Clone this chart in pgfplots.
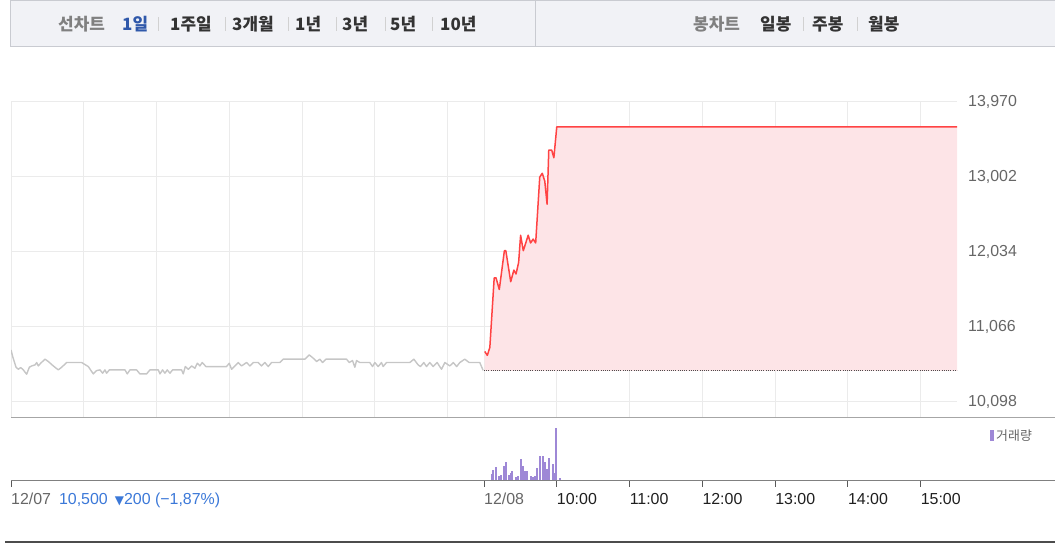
\documentclass[border=0pt]{standalone}
\usepackage{fontspec}
\setmainfont{Liberation Sans}
\newfontfamily\kr{Noto Sans CJK KR}
\newfontfamily\dv{DejaVu Sans}
\usepackage{pgfplots}
\pgfplotsset{compat=1.18}
\usepackage{pgfplotstable}
\definecolor{gridc}{HTML}{EBEBEB}
\definecolor{tabbg}{HTML}{F1F2F6}
\definecolor{tabline}{HTML}{C9CBD1}
\definecolor{labgrey}{HTML}{666666}
\definecolor{downblue}{HTML}{3B78D8}
\definecolor{upred}{HTML}{FF4343}
\definecolor{uppink}{HTML}{FDE4E7}
\definecolor{prevgrey}{HTML}{C6C6C6}
\definecolor{volpurple}{HTML}{9E88D6}
\definecolor{selblue}{HTML}{2F58AA}

\pgfplotstableread{
h p
0 10770
0.023 10684
0.069 10546
0.101 10520
0.133 10542
0.169 10512
0.215 10456
0.252 10546
0.284 10563
0.330 10576
0.353 10607
0.375 10563
0.408 10598
0.467 10650
0.513 10620
0.581 10563
0.650 10512
0.696 10546
0.765 10607
0.971 10607
1.062 10555
1.131 10460
1.177 10503
1.223 10512
1.259 10469
1.291 10512
1.314 10469
1.351 10512
1.566 10512
1.598 10460
1.635 10512
1.726 10512
1.772 10460
1.864 10460
1.909 10512
2.024 10512
2.047 10460
2.083 10512
2.115 10469
2.147 10512
2.184 10469
2.221 10512
2.344 10512
2.367 10460
2.395 10555
2.436 10520
2.482 10563
2.527 10533
2.560 10598
2.596 10563
2.628 10607
2.679 10555
2.962 10555
2.999 10598
3.031 10520
3.077 10563
3.123 10607
3.168 10563
3.237 10607
3.283 10563
3.329 10607
3.397 10607
3.443 10563
3.489 10607
3.535 10555
3.581 10607
3.695 10607
3.741 10650
4.038 10650
4.098 10706
4.153 10663
4.199 10620
4.245 10650
4.281 10607
4.327 10650
4.611 10650
4.648 10607
4.693 10632
4.725 10546
4.748 10632
4.794 10607
4.931 10607
4.968 10555
5.000 10607
5.046 10555
5.091 10607
5.114 10555
5.160 10607
5.481 10607
5.536 10650
5.595 10576
5.627 10555
5.673 10607
5.710 10555
5.755 10607
5.801 10555
5.856 10607
5.916 10520
5.962 10607
6.030 10563
6.078 10607
6.124 10555
6.168 10607
6.236 10650
6.296 10607
6.442 10607
6.488 10505
}\prevday

\pgfplotstableread{
h p
6.510 10750
6.545 10700
6.580 10800
6.640 11700
6.665 11700
6.710 11550
6.780 12050
6.800 12050
6.867 11650
6.910 11800
6.940 11750
6.976 11900
7.003 12250
7.040 12050
7.107 12250
7.140 12150
7.175 12200
7.210 12150
7.266 13000
7.300 13050
7.335 12950
7.367 12650
7.390 13350
7.430 13350
7.460 13250
7.500 13650
13.000 13650
}\today

\pgfplotstableread{
h v
6.500 4
6.606 22
6.624 34
6.669 42
6.706 16
6.734 19
6.775 46
6.798 56
6.839 19
6.867 24
6.889 31
6.935 12
6.971 16
7.004 66
7.040 46
7.063 31
7.095 29
7.141 16
7.173 12
7.201 14
7.228 39
7.265 74
7.306 74
7.334 56
7.370 36
7.389 69
7.444 52
7.479 24
7.493 159
7.544 8
7.589 4
8.240 3
}\volume

\begin{document}
\begin{tikzpicture}[x=1bp,y=1bp]
\useasboundingbox (0,0) rectangle (1055,543);
% tab bar
\fill[tabbg] (10,496) rectangle (1056,542);
\draw[tabline, line width=1bp] (1056,542) -- (10,542) -- (10,496) -- (1056,496);
\draw[tabline, line width=1bp] (535,496) -- (535,542);
\begin{scope}[every node/.style={anchor=west, inner sep=0pt, font=\fontsize{17}{17}\selectfont\kr\bfseries}]
\node[text=black!50] at (58,519) {선차트};
\node[text=selblue] at (122,519) {1일};
\node[text=black!80] at (170,519) {1주일};
\node[text=black!80] at (232,519) {3개월};
\node[text=black!80] at (295,519) {1년};
\node[text=black!80] at (342,519) {3년};
\node[text=black!80] at (390,519) {5년};
\node[text=black!80] at (440,519) {10년};
\node[text=black!50] at (693,519) {봉차트};
\node[text=black!80] at (760,519) {일봉};
\node[text=black!80] at (812,519) {주봉};
\node[text=black!80] at (868,519) {월봉};
\end{scope}
\foreach \sx in {158,225,288,336,385,432,803,857}{
  \draw[black!18, line width=0.8bp] (\sx,512) -- (\sx,526);
}

% price panel
\begin{axis}[at={(11bp,125bp)}, anchor=south west, scale only axis,
  width=946bp, height=316bp,
  xmin=0, xmax=13, ymin=9891, ymax=13970,
  axis line style={draw=none},
  xtick={0,1,2,3,4,5,6,6.5,7.5,8.5,9.5,10.5,11.5,12.5},
  xticklabels={},
  ytick={10098,11066,12034,13002,13970},
  scaled y ticks=false,
  yticklabel pos=right,
  major tick length=0pt,
  xmajorgrids, ymajorgrids,
  grid style={gridc, line width=1bp},
  yticklabel style={anchor=west, inner sep=0pt, xshift=11bp, text=labgrey, font=\fontsize{16}{16}\selectfont,
    /pgf/number format/1000 sep={,}, /pgf/number format/assume math mode=true}]
\addplot[fill=uppink, draw=none] table[x=h, y=p] {\today} -- (axis cs:13,10500) -- (axis cs:6.51,10500) -- cycle;
\addplot[black!70, line width=0.9bp, dash pattern=on 1bp off 1.2bp] coordinates {(6.5,10500) (13,10500)};
\addplot[prevgrey, line width=1.4bp, line join=round] table[x=h, y=p] {\prevday};
\addplot[upred, line width=1.5bp, line join=round] table[x=h, y=p] {\today};
\end{axis}

% volume panel
\begin{axis}[at={(11bp,62bp)}, anchor=south west, scale only axis,
  width=946bp, height=63bp,
  xmin=0, xmax=13, ymin=0, ymax=189,
  axis line style={draw=none},
  ytick=\empty,
  xtick={0,6.5,7.5,8.5,9.5,10.5,11.5,12.5},
  xticklabels={{{\color{labgrey}12/07}\hspace{8bp}{\color{downblue}10,500\hspace{7bp}{\dv\fontsize{12}{12}\selectfont▼}200 (−1,87\%)}},
    {\color{labgrey}12/08}, 10:00, 11:00, 12:00, 13:00, 14:00, 15:00},
  xtick pos=lower, tick align=outside, major tick length=6bp,
  tick style={black!65, line width=1bp},
  xticklabel style={anchor=north west, inner sep=0pt, yshift=-6bp, text=black!88, font=\fontsize{16}{16}\selectfont},
  clip=false]
\addplot[ycomb, volpurple, line width=1.8bp] table[x=h, y=v] {\volume};
\end{axis}

% panel separators
\draw[black!35, line width=1bp] (11,125) -- (1055,125);
\draw[black!50, line width=1bp] (11,62) -- (1055,62);
\draw[black!70, line width=1.4bp] (5,1) -- (1055,1);
% volume legend
\fill[volpurple] (990,102) rectangle (993.5,113);
\node[anchor=west, inner sep=0pt, text=labgrey, font=\fontsize{13}{13}\selectfont\kr] at (996,107.5) {거래량};
\end{tikzpicture}
\end{document}
